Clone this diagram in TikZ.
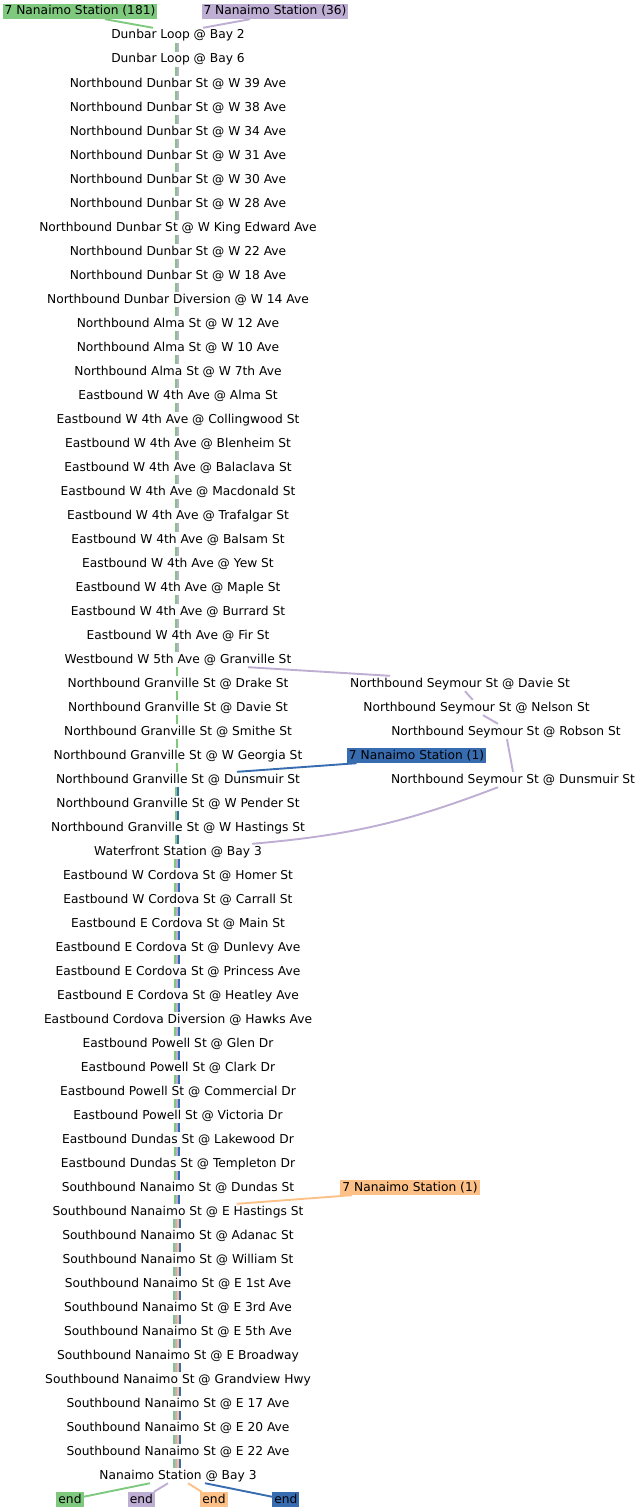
\documentclass[tikz,border=0pt]{standalone}
\usepackage{fontspec}
\setmainfont{DejaVu Sans}
\definecolor{cg}{HTML}{7FC97F}
\definecolor{cp}{HTML}{BEAED4}
\definecolor{co}{HTML}{FDC086}
\definecolor{cb}{HTML}{386CB0}
\begin{document}
\begin{tikzpicture}[x=1pt,y=-1pt,
  stopn/.style={anchor=base, inner xsep=1pt, inner ysep=0pt, text height=11pt, text depth=4pt, font=\fontsize{12.25}{14}\selectfont},
  labn/.style={anchor=base, inner xsep=2pt, inner ysep=0pt, text height=11pt, text depth=4pt, font=\fontsize{12.25}{14}\selectfont},
  lane/.style={line width=2.2pt},
  conn/.style={line width=1.9pt}]
\useasboundingbox (0,0) rectangle (642,1512);
% labels
\node[labn, fill=cg] (gl) at (80,15) {7 Nanaimo Station (181)};
\node[labn, fill=cp] (pl) at (275,15) {7 Nanaimo Station (36)};
\node[labn, fill=cb] (bl) at (416.5,759) {7 Nanaimo Station (1)};
\node[labn, fill=co] (ol) at (410,1191) {7 Nanaimo Station (1)};
% main stops
\node[stopn] (s1) at (178,39) {Dunbar Loop @ Bay 2};
\node[stopn] (s2) at (178,63) {Dunbar Loop @ Bay 6};
\node[stopn] (s3) at (178,87) {Northbound Dunbar St @ W 39 Ave};
\node[stopn] (s4) at (178,111) {Northbound Dunbar St @ W 38 Ave};
\node[stopn] (s5) at (178,135) {Northbound Dunbar St @ W 34 Ave};
\node[stopn] (s6) at (178,159) {Northbound Dunbar St @ W 31 Ave};
\node[stopn] (s7) at (178,183) {Northbound Dunbar St @ W 30 Ave};
\node[stopn] (s8) at (178,207) {Northbound Dunbar St @ W 28 Ave};
\node[stopn] (s9) at (178,231) {Northbound Dunbar St @ W King Edward Ave};
\node[stopn] (s10) at (178,255) {Northbound Dunbar St @ W 22 Ave};
\node[stopn] (s11) at (178,279) {Northbound Dunbar St @ W 18 Ave};
\node[stopn] (s12) at (178,303) {Northbound Dunbar Diversion @ W 14 Ave};
\node[stopn] (s13) at (178,327) {Northbound Alma St @ W 12 Ave};
\node[stopn] (s14) at (178,351) {Northbound Alma St @ W 10 Ave};
\node[stopn] (s15) at (178,375) {Northbound Alma St @ W 7th Ave};
\node[stopn] (s16) at (178,399) {Eastbound W 4th Ave @ Alma St};
\node[stopn] (s17) at (178,423) {Eastbound W 4th Ave @ Collingwood St};
\node[stopn] (s18) at (178,447) {Eastbound W 4th Ave @ Blenheim St};
\node[stopn] (s19) at (178,471) {Eastbound W 4th Ave @ Balaclava St};
\node[stopn] (s20) at (178,495) {Eastbound W 4th Ave @ Macdonald St};
\node[stopn] (s21) at (178,519) {Eastbound W 4th Ave @ Trafalgar St};
\node[stopn] (s22) at (178,543) {Eastbound W 4th Ave @ Balsam St};
\node[stopn] (s23) at (178,567) {Eastbound W 4th Ave @ Yew St};
\node[stopn] (s24) at (178,591) {Eastbound W 4th Ave @ Maple St};
\node[stopn] (s25) at (178,615) {Eastbound W 4th Ave @ Burrard St};
\node[stopn] (s26) at (178,639) {Eastbound W 4th Ave @ Fir St};
\node[stopn] (s27) at (178,663) {Westbound W 5th Ave @ Granville St};
\node[stopn] (s28) at (178,687) {Northbound Granville St @ Drake St};
\node[stopn] (s29) at (178,711) {Northbound Granville St @ Davie St};
\node[stopn] (s30) at (178,735) {Northbound Granville St @ Smithe St};
\node[stopn] (s31) at (178,759) {Northbound Granville St @ W Georgia St};
\node[stopn] (s32) at (178,783) {Northbound Granville St @ Dunsmuir St};
\node[stopn] (s33) at (178,807) {Northbound Granville St @ W Pender St};
\node[stopn] (s34) at (178,831) {Northbound Granville St @ W Hastings St};
\node[stopn] (s35) at (178,855) {Waterfront Station @ Bay 3};
\node[stopn] (s36) at (178,879) {Eastbound W Cordova St @ Homer St};
\node[stopn] (s37) at (178,903) {Eastbound W Cordova St @ Carrall St};
\node[stopn] (s38) at (178,927) {Eastbound E Cordova St @ Main St};
\node[stopn] (s39) at (178,951) {Eastbound E Cordova St @ Dunlevy Ave};
\node[stopn] (s40) at (178,975) {Eastbound E Cordova St @ Princess Ave};
\node[stopn] (s41) at (178,999) {Eastbound E Cordova St @ Heatley Ave};
\node[stopn] (s42) at (178,1023) {Eastbound Cordova Diversion @ Hawks Ave};
\node[stopn] (s43) at (178,1047) {Eastbound Powell St @ Glen Dr};
\node[stopn] (s44) at (178,1071) {Eastbound Powell St @ Clark Dr};
\node[stopn] (s45) at (178,1095) {Eastbound Powell St @ Commercial Dr};
\node[stopn] (s46) at (178,1119) {Eastbound Powell St @ Victoria Dr};
\node[stopn] (s47) at (178,1143) {Eastbound Dundas St @ Lakewood Dr};
\node[stopn] (s48) at (178,1167) {Eastbound Dundas St @ Templeton Dr};
\node[stopn] (s49) at (178,1191) {Southbound Nanaimo St @ Dundas St};
\node[stopn] (s50) at (178,1215) {Southbound Nanaimo St @ E Hastings St};
\node[stopn] (s51) at (178,1239) {Southbound Nanaimo St @ Adanac St};
\node[stopn] (s52) at (178,1263) {Southbound Nanaimo St @ William St};
\node[stopn] (s53) at (178,1287) {Southbound Nanaimo St @ E 1st Ave};
\node[stopn] (s54) at (178,1311) {Southbound Nanaimo St @ E 3rd Ave};
\node[stopn] (s55) at (178,1335) {Southbound Nanaimo St @ E 5th Ave};
\node[stopn] (s56) at (178,1359) {Southbound Nanaimo St @ E Broadway};
\node[stopn] (s57) at (178,1383) {Southbound Nanaimo St @ Grandview Hwy};
\node[stopn] (s58) at (178,1407) {Southbound Nanaimo St @ E 17 Ave};
\node[stopn] (s59) at (178,1431) {Southbound Nanaimo St @ E 20 Ave};
\node[stopn] (s60) at (178,1455) {Southbound Nanaimo St @ E 22 Ave};
\node[stopn] (s61) at (178,1479) {Nanaimo Station @ Bay 3};
% Seymour branch
\node[stopn] (sd) at (460,687) {Northbound Seymour St @ Davie St};
\node[stopn] (sn) at (476.5,711) {Northbound Seymour St @ Nelson St};
\node[stopn] (sr) at (506,735) {Northbound Seymour St @ Robson St};
\node[stopn] (sdu) at (513,783) {Northbound Seymour St @ Dunsmuir St};
% ends
\node[labn, fill=cg] (eg) at (70,1503) {end};
\node[labn, fill=cp] (ep) at (141.3,1503) {end};
\node[labn, fill=co] (eo) at (214,1503) {end};
\node[labn, fill=cb] (eb) at (285.8,1503) {end};
% lanes
\foreach \i in {1,...,26}{\pgfmathtruncatemacro\j{\i+1}
  \draw[lane,cg] ([xshift=-2.1pt]s\i.south) -- ([xshift=-2.1pt]s\j.north);
  \draw[lane,cp] ([xshift=0.1pt]s\i.south) -- ([xshift=0.1pt]s\j.north);}
\foreach \i in {27,...,31}{\pgfmathtruncatemacro\j{\i+1}
  \draw[lane,cg] ([xshift=-1pt]s\i.south) -- ([xshift=-1pt]s\j.north);}
\foreach \i in {32,...,34}{\pgfmathtruncatemacro\j{\i+1}
  \draw[lane,cg] ([xshift=-2.1pt]s\i.south) -- ([xshift=-2.1pt]s\j.north);
  \draw[lane,cb] ([xshift=0.1pt]s\i.south) -- ([xshift=0.1pt]s\j.north);}
\foreach \i in {35,...,49}{\pgfmathtruncatemacro\j{\i+1}
  \draw[lane,cg] ([xshift=-3.2pt]s\i.south) -- ([xshift=-3.2pt]s\j.north);
  \draw[lane,cp] ([xshift=-1pt]s\i.south) -- ([xshift=-1pt]s\j.north);
  \draw[lane,cb] ([xshift=1.2pt]s\i.south) -- ([xshift=1.2pt]s\j.north);}
\foreach \i in {50,...,60}{\pgfmathtruncatemacro\j{\i+1}
  \draw[lane,cg] ([xshift=-4.3pt]s\i.south) -- ([xshift=-4.3pt]s\j.north);
  \draw[lane,cp] ([xshift=-2.1pt]s\i.south) -- ([xshift=-2.1pt]s\j.north);
  \draw[lane,co] ([xshift=0.1pt]s\i.south) -- ([xshift=0.1pt]s\j.north);
  \draw[lane,cb] ([xshift=2.3pt]s\i.south) -- ([xshift=2.3pt]s\j.north);}
% connectors
\draw[conn,cg] ([xshift=25pt]gl.south) -- ([xshift=-25pt]s1.north);
\draw[conn,cp] ([xshift=-25pt]pl.south) -- ([xshift=25pt]s1.north);
\draw[conn,cp] ([xshift=70pt]s27.south) -- ([xshift=-70pt]sd.north);
\draw[conn,cp] ([xshift=5pt]sd.south) -- ([xshift=-3.8pt]sn.north);
\draw[conn,cp] ([xshift=6.5pt]sn.south) -- ([xshift=-8pt]sr.north);
\draw[conn,cp] ([xshift=1pt]sr.south) -- (sdu.north);
\draw[conn,cp] ([xshift=-15pt]sdu.south) to[bend left=8] ([xshift=74pt]s35.north);
\draw[conn,cb] ([xshift=-60pt]bl.south) -- ([xshift=59pt]s32.north);
\draw[conn,co] ([xshift=-58pt]ol.south) -- ([xshift=58.7pt]s50.north);
\draw[conn,cg] ([xshift=-28pt]s61.south) -- (eg);
\draw[conn,cp] ([xshift=-10pt]s61.south) -- (ep);
\draw[conn,co] ([xshift=10pt]s61.south) -- (eo);
\draw[conn,cb] ([xshift=27pt]s61.south) -- (eb);
\end{tikzpicture}
\end{document}
